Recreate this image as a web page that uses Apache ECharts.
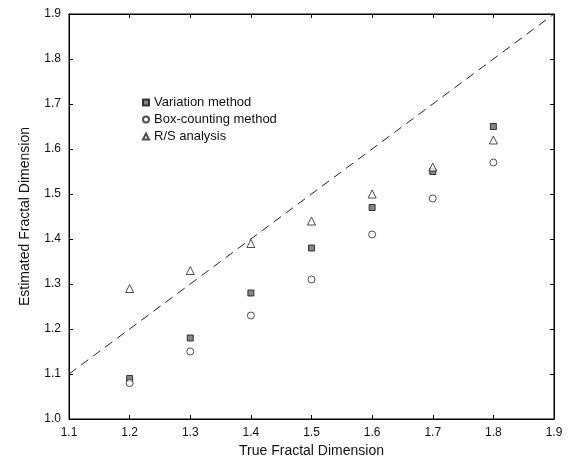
<!DOCTYPE html>
<html><head><meta charset="utf-8">
<script src="https://cdn.jsdelivr.net/npm/echarts@6/dist/echarts.min.js"></script>
<style>html,body{margin:0;padding:0;background:#fff}#c{width:572px;height:462px}</style>
</head><body><div id="c"></div>
<script>
const trueDim = [1.2, 1.3, 1.4, 1.5, 1.6, 1.7, 1.8];
const variation = [1.09, 1.18, 1.28, 1.38, 1.47, 1.55, 1.65];
const boxCounting = [1.08, 1.15, 1.23, 1.31, 1.41, 1.49, 1.57];
const rsAnalysis = [1.29, 1.33, 1.39, 1.44, 1.50, 1.56, 1.62];
const identityLine = [[1.1, 1.1], [1.9, 1.9]];

const pair = (xs, ys) => xs.map((x, i) => [x, ys[i]]);
const font = 'Liberation Sans, Arial, sans-serif';
const axisCommon = {
  min: 1.0, max: 1.9, interval: 0.1,
  axisLine: {lineStyle: {color: '#000', width: 1}},
  axisTick: {inside: true, length: 4, lineStyle: {color: '#000'}},
  splitLine: {show: false},
  axisLabel: {color: '#111', fontSize: 12, fontFamily: font, formatter: v => v.toFixed(1)}
};
const chart = echarts.init(document.getElementById('c'));
chart.setOption({
  animation: false,
  grid: {left: 69, right: 18, top: 14, bottom: 43, outerBoundsMode: 'none', show: true, borderColor: '#000', borderWidth: 1},
  legend: {
    orient: 'vertical', left: 137, top: 91, itemGap: 4, itemWidth: 6, itemHeight: 6,
    textStyle: {fontSize: 13, fontFamily: font, color: '#111', lineHeight: 13},
    data: ['Variation method', 'Box-counting method', 'R/S analysis']
  },
  xAxis: [
    Object.assign({}, axisCommon, {type: 'value', min: 1.1, max: 1.9, name: 'True Fractal Dimension', nameLocation: 'middle', nameGap: 21,
      nameTextStyle: {fontSize: 14, fontFamily: font, color: '#111'}}),
    Object.assign({}, axisCommon, {type: 'value', min: 1.1, max: 1.9, position: 'top', axisLabel: {show: false}})
  ],
  yAxis: [
    Object.assign({}, axisCommon, {type: 'value', name: 'Estimated Fractal Dimension', nameLocation: 'middle', nameGap: 37,
      nameTextStyle: {fontSize: 14, fontFamily: font, color: '#111'}}),
    Object.assign({}, axisCommon, {type: 'value', position: 'right', axisLabel: {show: false}})
  ],
  series: [
    {type: 'line', data: identityLine, symbol: 'none', silent: true,
      lineStyle: {color: '#222', width: 1, type: [9, 6]}},
    {name: 'Variation method', type: 'scatter', data: pair(trueDim, variation), symbol: 'rect', symbolSize: 6,
      itemStyle: {color: '#666', borderColor: '#111', borderWidth: 1}},
    {name: 'Box-counting method', type: 'scatter', data: pair(trueDim, boxCounting), symbol: 'circle', symbolSize: 7,
      itemStyle: {color: '#fff', borderColor: '#222', borderWidth: 1}},
    {name: 'R/S analysis', type: 'scatter', data: pair(trueDim, rsAnalysis), symbol: 'triangle', symbolSize: 8,
      itemStyle: {color: '#fff', borderColor: '#222', borderWidth: 1}}
  ]
});
</script></body></html>
